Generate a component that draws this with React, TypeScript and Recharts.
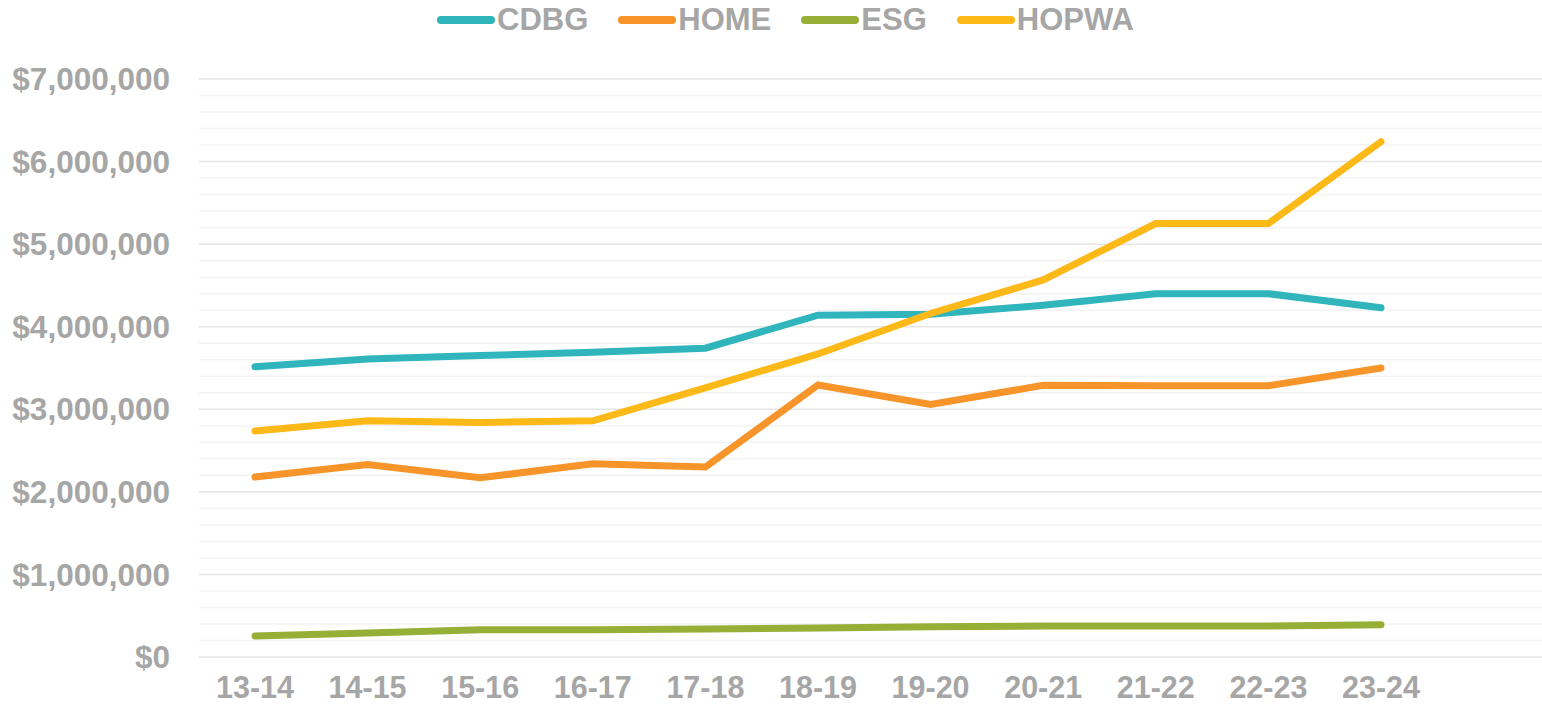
import React from "react";
import { LineChart, Line, XAxis, YAxis, CartesianGrid, ReferenceLine } from "recharts";

// fiscal years on the category axis
const years = ["13-14", "14-15", "15-16", "16-17", "17-18", "18-19", "19-20", "20-21", "21-22", "22-23", "23-24"];

// allocations per program (dollars)
const cdbg = [3516000, 3610000, 3650000, 3690000, 3740000, 4140000, 4150000, 4260000, 4400000, 4400000, 4230000];
const home = [2180000, 2330000, 2170000, 2340000, 2300000, 3294000, 3060000, 3290000, 3286000, 3286000, 3500000];
const esg = [254000, 290000, 330000, 330000, 340000, 350000, 365000, 375000, 375000, 375000, 390000];
const hopwa = [2737000, 2860000, 2840000, 2860000, 3260000, 3670000, 4160000, 4566000, 5250000, 5250000, 6240000];

const majorTicks = [0, 1000000, 2000000, 3000000, 4000000, 5000000, 6000000, 7000000];
// minor gridlines between the majors
const minorTicks = [
  200000, 400000, 600000, 800000, 1200000, 1400000, 1600000, 1800000, 2200000, 2400000, 2600000, 2800000,
  3200000, 3400000, 3600000, 3800000, 4200000, 4400000, 4600000, 4800000, 5200000, 5400000, 5600000, 5800000,
  6200000, 6400000, 6600000, 6800000,
];

const series = [
  { key: "CDBG", values: cdbg, color: "#2fb5bb" },
  { key: "HOME", values: home, color: "#f7952b" },
  { key: "ESG", values: esg, color: "#97ae37" },
  { key: "HOPWA", values: hopwa, color: "#fdb917" },
];

const data = years.map((y, i) => {
  const row: Record<string, string | number> = { year: y };
  series.forEach((s) => (row[s.key] = s.values[i]));
  return row;
});

const font = "'Liberation Sans', Arial, sans-serif";
const grey = "#a6a6a6";

const fmt = (v: number) => "$" + v.toLocaleString("en-US");

const App = () => (
  <div style={{ position: "absolute", left: 0, top: 0, width: 1542, height: 711, background: "#fff", fontFamily: font }}>
    <div style={{ position: "absolute", top: 2, left: 437, display: "flex", alignItems: "center", gap: 30 }}>
      {series.map((s) => (
        <div key={s.key} style={{ display: "flex", alignItems: "center" }}>
          <div style={{ width: 58, height: 8, borderRadius: 4, background: s.color, marginRight: 2 }} />
          <span style={{ fontSize: 31, fontWeight: 700, color: grey, lineHeight: "36px" }}>{s.key}</span>
        </div>
      ))}
    </div>
    <LineChart width={1542} height={711} data={data} margin={{ top: 79, right: 0, left: 0, bottom: 0 }}>
      {minorTicks.map((v) => (
        <ReferenceLine key={v} y={v} stroke="#f3f3f3" strokeWidth={1.5} ifOverflow="extendDomain" />
      ))}
      <CartesianGrid vertical={false} stroke="#e6e6e6" strokeWidth={1.5} />
      <XAxis
        dataKey="year"
        height={54}
        axisLine={false}
        tickLine={false}
        tickSize={0}
        tickMargin={19}
        padding={{ left: 56, right: 161 }}
        interval={0}
        tick={{ fill: grey, fontSize: 30.5, fontWeight: 700, fontFamily: font }}
      />
      <YAxis
        width={199}
        domain={[0, 7000000]}
        ticks={majorTicks}
        tickFormatter={fmt}
        axisLine={false}
        tickLine={false}
        tickSize={0}
        tickMargin={29}
        tick={{ fill: grey, fontSize: 31.5, fontWeight: 700, fontFamily: font }}
      />
      {series.map((s) => (
        <Line
          key={s.key}
          dataKey={s.key}
          stroke={s.color}
          strokeWidth={7}
          strokeLinecap="round"
          dot={false}
          activeDot={false}
          type="linear"
          isAnimationActive={false}
        />
      ))}
    </LineChart>
  </div>
);

export default App;
